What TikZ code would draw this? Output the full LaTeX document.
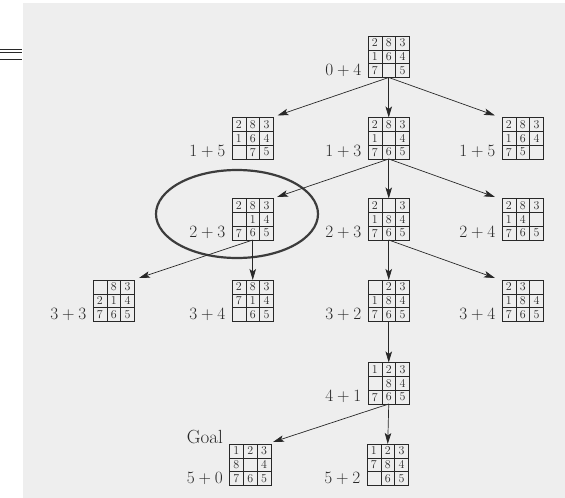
\documentclass[tikz,border=0pt]{standalone}
\usetikzlibrary{arrows.meta,calc}
\definecolor{page}{RGB}{238,238,238}
\definecolor{ink}{RGB}{40,40,40}
\definecolor{ring}{RGB}{60,60,60}
\newcommand\pzcell[1]{\hbox to 13.83pt{\hss\vbox to 13.83pt{\vss\hbox{#1}\vss}\hss}}
\newcommand\puz[9]{\vbox{\offinterlineskip
  \hbox{\pzcell{#1}\pzcell{#2}\pzcell{#3}}%
  \hbox{\pzcell{#4}\pzcell{#5}\pzcell{#6}}%
  \hbox{\pzcell{#7}\pzcell{#8}\pzcell{#9}}}}
\tikzset{
  puzzle/.style={draw=ink, line width=0.8pt, inner sep=0pt, outer sep=0pt,
    anchor=north west, font=\fontsize{12}{12}\selectfont, text=ink,
    path picture={
      \foreach \f in {0.3333,0.6667}{
        \draw[ink, line width=0.6pt]
          ($(path picture bounding box.south west)!\f!(path picture bounding box.south east)$) --
          ($(path picture bounding box.north west)!\f!(path picture bounding box.north east)$);
        \draw[ink, line width=0.6pt]
          ($(path picture bounding box.south west)!\f!(path picture bounding box.north west)$) --
          ($(path picture bounding box.south east)!\f!(path picture bounding box.north east)$);
      }}},
  lab/.style={anchor=east, inner sep=0pt, text=ink, font=\fontsize{19}{20}\selectfont},
  arr/.style={-{Stealth[length=11pt,width=6.5pt,inset=2.5pt]}, draw=ink, line width=0.7pt},
  rule/.style={draw=ink, line width=0.8pt}
}
\begin{document}
\begin{tikzpicture}[x=1pt,y=-1pt]
\useasboundingbox (0,0) rectangle (565,498);
\fill[white] (0,0) rectangle (565,498);
\fill[page] (23,3) rectangle (565,498);
% left margin rules
\coordinate (m1a) at (0,49.5); \coordinate (m1b) at (22,49.5);
\coordinate (m2a) at (0,52.5); \coordinate (m2b) at (22,52.5);
\coordinate (m3a) at (0,59.5); \coordinate (m3b) at (22,59.5);
\draw[rule] (m1a) -- (m1b);
\draw[rule] (m2a) -- (m2b);
\draw[rule] (m3a) -- (m3b);

% level 0
\node[puzzle] (r) at (368,36) {\puz{2}{8}{3}{1}{6}{4}{7}{}{5}};
% level 1
\node[puzzle] (a1) at (232,117.5) {\puz{2}{8}{3}{1}{6}{4}{}{7}{5}};
\node[puzzle] (b1) at (368,117.5) {\puz{2}{8}{3}{1}{}{4}{7}{6}{5}};
\node[puzzle] (c1) at (502,117.5) {\puz{2}{8}{3}{1}{6}{4}{7}{5}{}};
% level 2
\node[puzzle] (a2) at (232,198.5) {\puz{2}{8}{3}{}{1}{4}{7}{6}{5}};
\node[puzzle] (b2) at (368,198.5) {\puz{2}{}{3}{1}{8}{4}{7}{6}{5}};
\node[puzzle] (c2) at (502,198.5) {\puz{2}{8}{3}{1}{4}{}{7}{6}{5}};
% level 3
\node[puzzle] (a3) at (93,280) {\puz{}{8}{3}{2}{1}{4}{7}{6}{5}};
\node[puzzle] (b3) at (232,280) {\puz{2}{8}{3}{7}{1}{4}{}{6}{5}};
\node[puzzle] (c3) at (368,280) {\puz{}{2}{3}{1}{8}{4}{7}{6}{5}};
\node[puzzle] (d3) at (502,280) {\puz{2}{3}{}{1}{8}{4}{7}{6}{5}};
% level 4
\node[puzzle] (a4) at (368,362.5) {\puz{1}{2}{3}{}{8}{4}{7}{6}{5}};
% level 5
\node[puzzle] (g5) at (229.5,444) {\puz{1}{2}{3}{8}{}{4}{7}{6}{5}};
\node[puzzle] (b5) at (367,444) {\puz{1}{2}{3}{7}{8}{4}{}{6}{5}};

% labels
\node[lab] (lr)  at ($(r.west)+(-6.5,13.5)$)  {$0+4$};
\node[lab] (la1) at ($(a1.west)+(-6.5,13.5)$) {$1+5$};
\node[lab] (lb1) at ($(b1.west)+(-6.5,13.5)$) {$1+3$};
\node[lab] (lc1) at ($(c1.west)+(-6.5,13.5)$) {$1+5$};
\node[lab] (la2) at ($(a2.west)+(-6.5,13.5)$) {$2+3$};
\node[lab] (lb2) at ($(b2.west)+(-6.5,13.5)$) {$2+3$};
\node[lab] (lc2) at ($(c2.west)+(-6.5,13.5)$) {$2+4$};
\node[lab] (la3) at ($(a3.west)+(-6.5,13.5)$) {$3+3$};
\node[lab] (lb3) at ($(b3.west)+(-6.5,13.5)$) {$3+4$};
\node[lab] (lc3) at ($(c3.west)+(-6.5,13.5)$) {$3+2$};
\node[lab] (ld3) at ($(d3.west)+(-6.5,13.5)$) {$3+4$};
\node[lab] (la4) at ($(a4.west)+(-6.5,13.5)$) {$4+1$};
\node[lab] (lg5) at ($(g5.west)+(-6.5,13.5)$) {$5+0$};
\node[lab] (lb5) at ($(b5.west)+(-6.5,13.5)$) {$5+2$};
\node[lab, anchor=base east] (goal) at (223,443) {Goal};

% highlighted node
\draw[ring, line width=2.2pt] (237,214) ellipse [x radius=81, y radius=44];

% connectors
\draw[arr] (r.south) -- ($(a1.north east)+(4,-2)$);
\draw[arr] (r.south) -- (b1.north);
\draw[arr] (r.south) -- ($(c1.north west)+(-7,-2)$);
\draw[arr] (b1.south) -- ($(a2.north east)+(3.5,-1.5)$);
\draw[arr] (b1.south) -- (b2.north);
\draw[arr] (b1.south) -- ($(c2.north west)+(-7,-1.5)$);
\draw[arr] (a2.south) -- ($(a3.north east)+(4.5,-2)$);
\draw[arr] (a2.south) -- (b3.north);
\draw[arr] (b2.south) -- (c3.north);
\draw[arr] (b2.south) -- ($(d3.north west)+(-7,-2)$);
\draw[arr] (c3.south) -- (a4.north);
\draw[arr] (a4.south) -- ($(g5.north east)+(2,-2)$);
\draw[arr] (a4.south) -- (b5.north);
\end{tikzpicture}
\end{document}
